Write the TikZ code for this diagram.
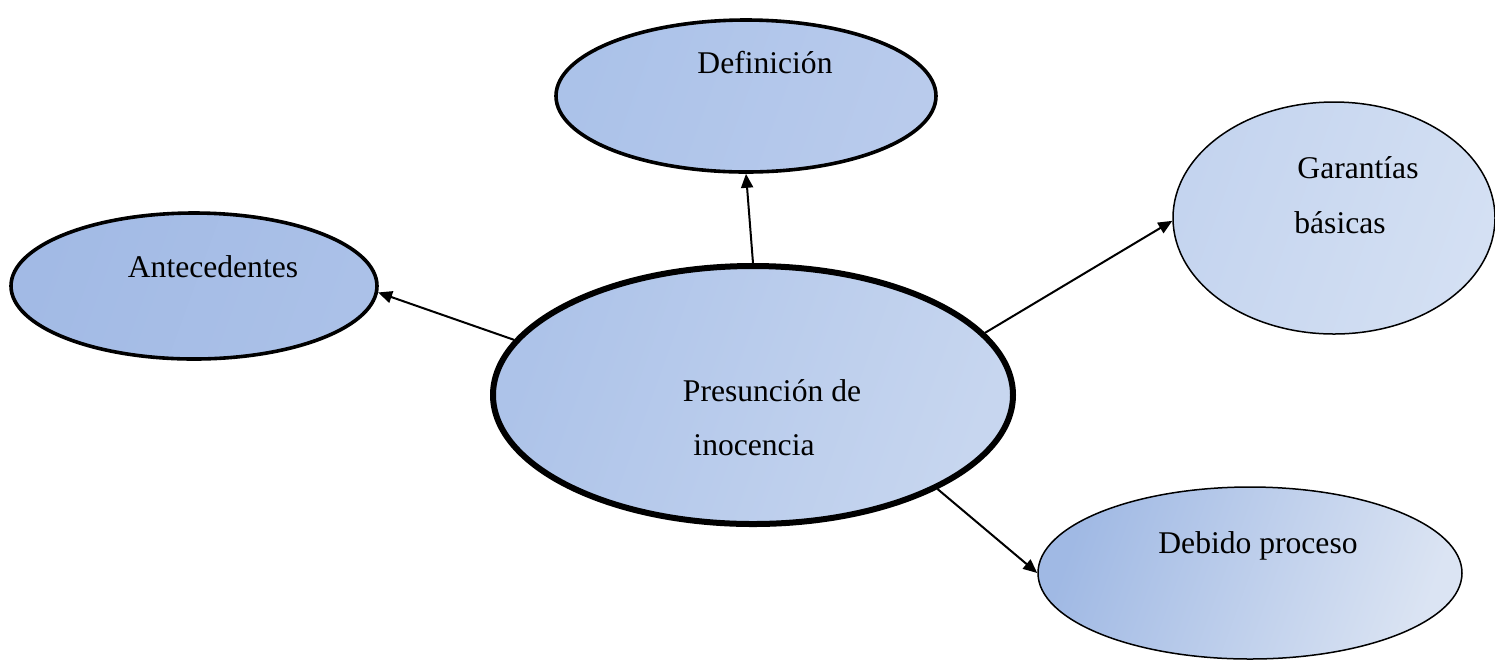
\documentclass[tikz,border=0pt]{standalone}
\usepackage{fontspec}
\setmainfont{Liberation Serif}
\usetikzlibrary{shapes.geometric,arrows.meta}
\definecolor{aL}{HTML}{A2BAE5}\definecolor{aR}{HTML}{ABC1E8}
\definecolor{dL}{HTML}{ABC2E9}\definecolor{dR}{HTML}{B9CBEC}
\definecolor{cL}{HTML}{ADC3E9}\definecolor{cR}{HTML}{C7D6EF}
\definecolor{gL}{HTML}{C4D4EF}\definecolor{gR}{HTML}{D4E0F3}
\definecolor{pL}{HTML}{A0B9E4}\definecolor{pR}{HTML}{DBE4F3}
\tikzset{
  bubble/.style={ellipse, draw=black, inner sep=0pt},
  lbl/.style={anchor=base, font=\fontsize{15.8}{19}\selectfont, inner sep=0pt},
  arr/.style={line width=1pt, -{Triangle[length=7pt,width=6pt]}},
}
\begin{document}
\begin{tikzpicture}[x=0.5pt,y=-0.5pt]
\useasboundingbox (0,0) rectangle (1495,661);
% ellipses
\node[bubble, line width=1.8pt, minimum width=190pt, minimum height=76pt,
      left color=dL, right color=dR, shading angle=70] (D) at (746,96) {};
\node[bubble, line width=1.8pt, minimum width=183pt, minimum height=73pt,
      left color=aL, right color=aR, shading angle=70] (A) at (194,286) {};
\node[bubble, line width=0.75pt, minimum width=161pt, minimum height=116pt,
      left color=gL, right color=gR, shading angle=70] (G) at (1334,218) {};
\node[bubble, line width=0.75pt, minimum width=212pt, minimum height=86pt,
      left color=pL, right color=pR, shading angle=70] (P) at (1250,573) {};
\node[bubble, line width=3pt, minimum width=260pt, minimum height=129pt,
      left color=cL, right color=cR, shading angle=70] (C) at (753,395) {};
% labels
\node[lbl] (tD) at (765,73) {Definición};
\node[lbl] (tA) at (213,277) {Antecedentes};
\node[lbl] (tG1) at (1358,178) {Garantías};
\node[lbl] (tG2) at (1340,233) {básicas};
\node[lbl] (tC1) at (772,401) {Presunción de};
\node[lbl] (tC2) at (754,455) {inocencia};
\node[lbl] (tP) at (1258,553) {Debido proceso};
% connectors
\draw[arr] (C.north) -- (D.south);
\draw[arr] (C.167) -- (A.-2);
\draw[arr] (C.15) -- (G.181);
\draw[arr] (C.-27) -- (P.west);
\end{tikzpicture}
\end{document}
